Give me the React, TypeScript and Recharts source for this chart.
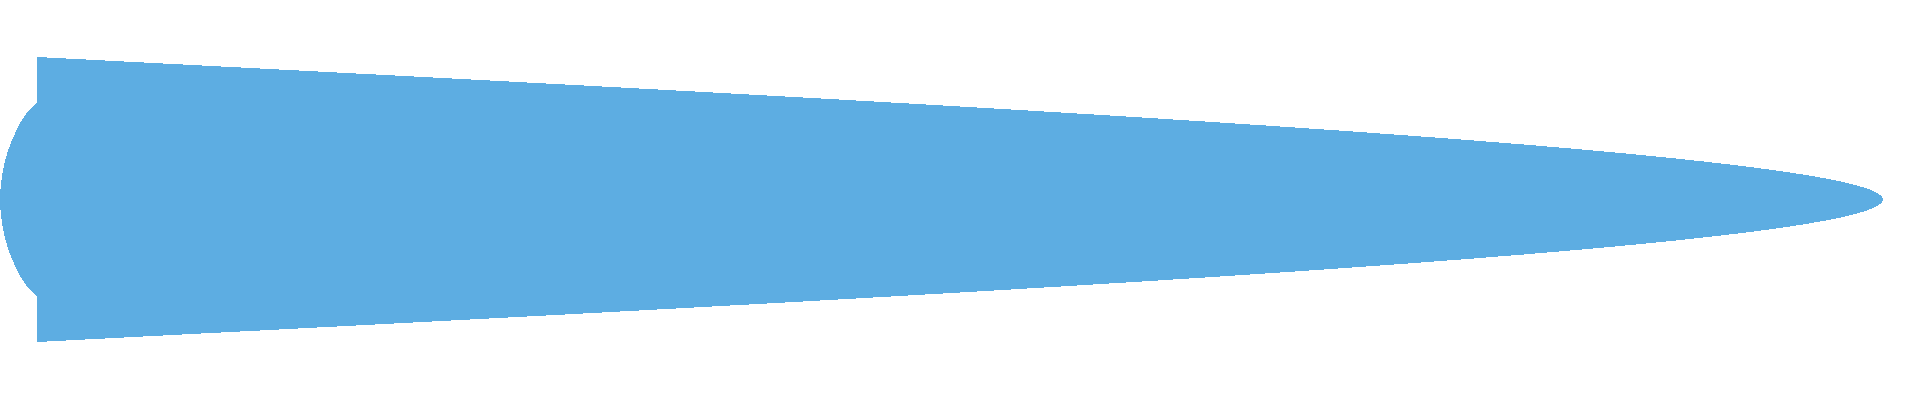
import React from 'react';
import { AreaChart, Area, XAxis, YAxis } from 'recharts';

// rows run top to bottom (vertical layout), value axis runs left to right
const rows = [0, 10, 20];
const spread = [0, 100, 0];

// the rounded lobe on the left side
const lobeRows = [3.2, 3.6, 4, 5, 6.5, 8, 10, 12, 13.5, 15, 16, 16.4, 16.8];
const lobeEdge = [0, -0.33, -0.6, -1.05, -1.55, -1.85, -2, -1.85, -1.55, -1.05, -0.6, -0.33, 0];

const mainData = rows.map((y, i) => ({ y, x: [0, spread[i]] }));
const lobeData = lobeRows.map((y, i) => ({ y, x: [lobeEdge[i], 1] }));

const FILL = '#5dade2';

export default function App() {
  return (
    <div style={{ position: 'absolute', left: 0, top: 0, width: 1920, height: 400, background: '#fff' }}>
      <AreaChart
        width={1920}
        height={400}
        layout="vertical"
        margin={{ top: 57, right: 0, bottom: 58, left: 0 }}
      >
        <XAxis type="number" domain={[-2, 102]} allowDataOverflow hide />
        <YAxis type="number" dataKey="y" domain={[0, 20]} allowDataOverflow hide />
        <Area
          data={mainData}
          dataKey="x"
          type="monotone"
          fill={FILL}
          fillOpacity={1}
          stroke="none"
          shapeRendering="crispEdges"
          dot={false}
          activeDot={false}
          isAnimationActive={false}
        />
        <Area
          data={lobeData}
          dataKey="x"
          type="monotone"
          fill={FILL}
          fillOpacity={1}
          stroke="none"
          shapeRendering="crispEdges"
          dot={false}
          activeDot={false}
          isAnimationActive={false}
        />
      </AreaChart>
    </div>
  );
}
